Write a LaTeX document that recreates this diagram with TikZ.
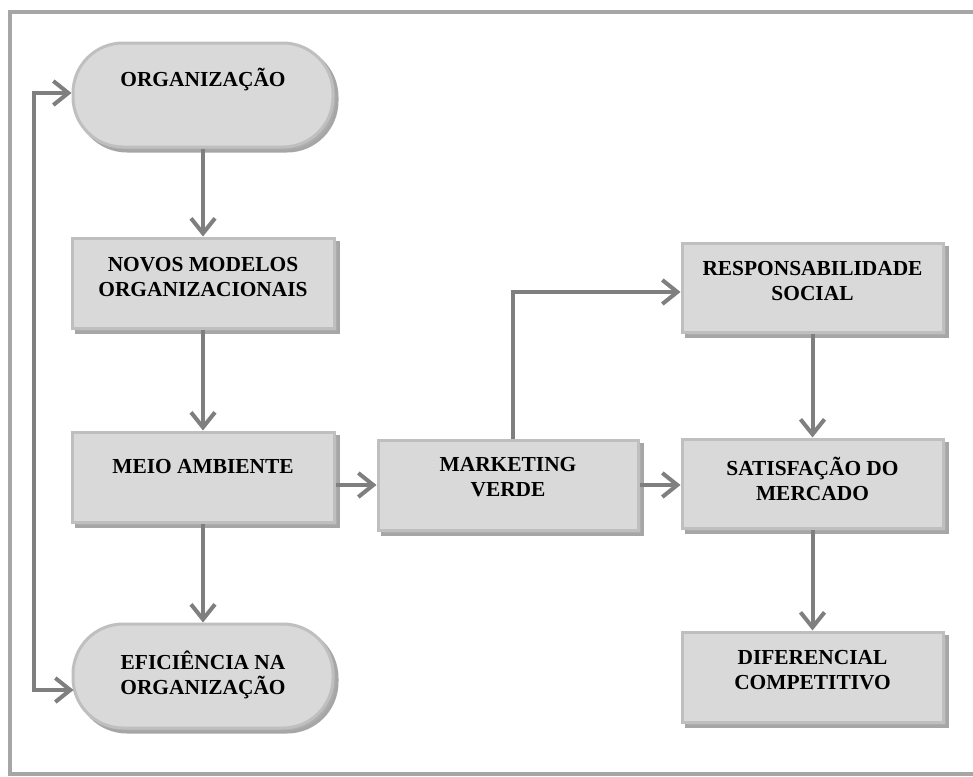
\documentclass[tikz,border=0pt]{standalone}
\usepackage{fontspec}
\setmainfont{Liberation Serif}
\usetikzlibrary{arrows.meta,calc}

\definecolor{boxfill}{HTML}{D9D9D9}
\definecolor{boxline}{HTML}{BFBFBF}
\definecolor{shadowfill}{HTML}{A6A6A6}
\definecolor{arrowgray}{HTML}{7F7F7F}
\definecolor{framegray}{HTML}{A6A6A6}

\tikzset{
  shade3d/.style={
    preaction={draw=shadowfill, fill=shadowfill!70!boxline, line width=1.5pt,
               transform canvas={xshift=2pt,yshift=-2pt}}},
  flowbox/.style={shape=rectangle, shade3d, fill=boxfill, draw=boxline,
                  line width=1.5pt, inner sep=0pt},
  terminal/.style={flowbox, rounded corners=25pt},
  lbl/.style={align=center, inner sep=0pt,
              font=\bfseries\fontsize{10.7}{12.5}\selectfont},
  tip/.tip={Straight Barb[length=7.5pt,width=12pt]},
  arr/.style={draw=arrowgray, line width=2pt, -tip},
  biarr/.style={draw=arrowgray, line width=2pt, tip-tip},
}

\begin{document}
\begin{tikzpicture}[x=0.5pt, y=-0.5pt]
  \useasboundingbox (0,0) rectangle (973,776);

  % outer frame
  \draw[framegray, line width=2pt] (10,12) rectangle (990,774);

  % shapes
  \node[terminal, minimum width=130pt, minimum height=52pt] (org)    at (203,95)  {};
  \node[flowbox,  minimum width=131pt, minimum height=45pt] (novos)  at (203,283) {};
  \node[flowbox,  minimum width=131pt, minimum height=45pt] (meio)   at (203,477) {};
  \node[terminal, minimum width=130pt, minimum height=52pt] (efic)   at (203,676) {};
  \node[flowbox,  minimum width=130pt, minimum height=45pt] (mkt)    at (508,485) {};
  \node[flowbox,  minimum width=130.5pt, minimum height=44.5pt] (resp)   at (812.5,287.5) {};
  \node[flowbox,  minimum width=130.5pt, minimum height=44.5pt] (satisf) at (812.5,483.5) {};
  \node[flowbox,  minimum width=130.5pt, minimum height=45pt] (dif)    at (812.5,677) {};

  % texts
  \node[lbl] (org-t)    at ($(org.center)+(0,-15)$)    {ORGANIZAÇÃO};
  \node[lbl] (novos-t)  at ($(novos.center)+(0,-5.5)$) {NOVOS MODELOS\\ORGANIZACIONAIS};
  \node[lbl] (meio-t)   at ($(meio.center)+(0,-10)$)   {MEIO AMBIENTE};
  \node[lbl] (efic-t)   at ($(efic.center)+(0,-1.5)$)  {EFICIÊNCIA NA\\ORGANIZAÇÃO};
  \node[lbl] (mkt-t)    at ($(mkt.center)+(0,-7.5)$)   {MARKETING\\VERDE};
  \node[lbl] (resp-t)   at ($(resp.center)+(0,-6)$)    {RESPONSABILIDADE\\SOCIAL};
  \node[lbl] (satisf-t) at ($(satisf.center)+(0,-5)$)  {SATISFAÇÃO DO\\MERCADO};
  \node[lbl] (dif-t)    at ($(dif.center)+(0,-6.5)$)   {DIFERENCIAL\\COMPETITIVO};

  % connectors
  \draw[arr] (org.south) -- (novos.north);
  \draw[arr] (novos.south) -- (meio.north);
  \draw[arr] (meio.south) -- (efic.north);
  \draw[arr] (meio.east |- mkt.east) -- (mkt.west);
  \draw[arr] (mkt.east) -- (satisf.west |- mkt.east);
  \coordinate (mkt-up) at ($(mkt.north)+(5,0)$);
  \draw[arr] (mkt-up) |- ($(resp.west)+(0,4.5)$);
  \draw[arr] (resp.south) -- (satisf.north);
  \draw[arr] (satisf.south) -- (dif.north);

  % feedback loop on the left
  \coordinate (loop) at (34,0);
  \draw[biarr] ($(org.west)+(0,-2)$) -- ($(loop |- org.west)+(0,-2)$)
               -- ($(loop |- efic.west)+(0,14)$) -- ($(efic.west)+(2,14)$);
\end{tikzpicture}
\end{document}
